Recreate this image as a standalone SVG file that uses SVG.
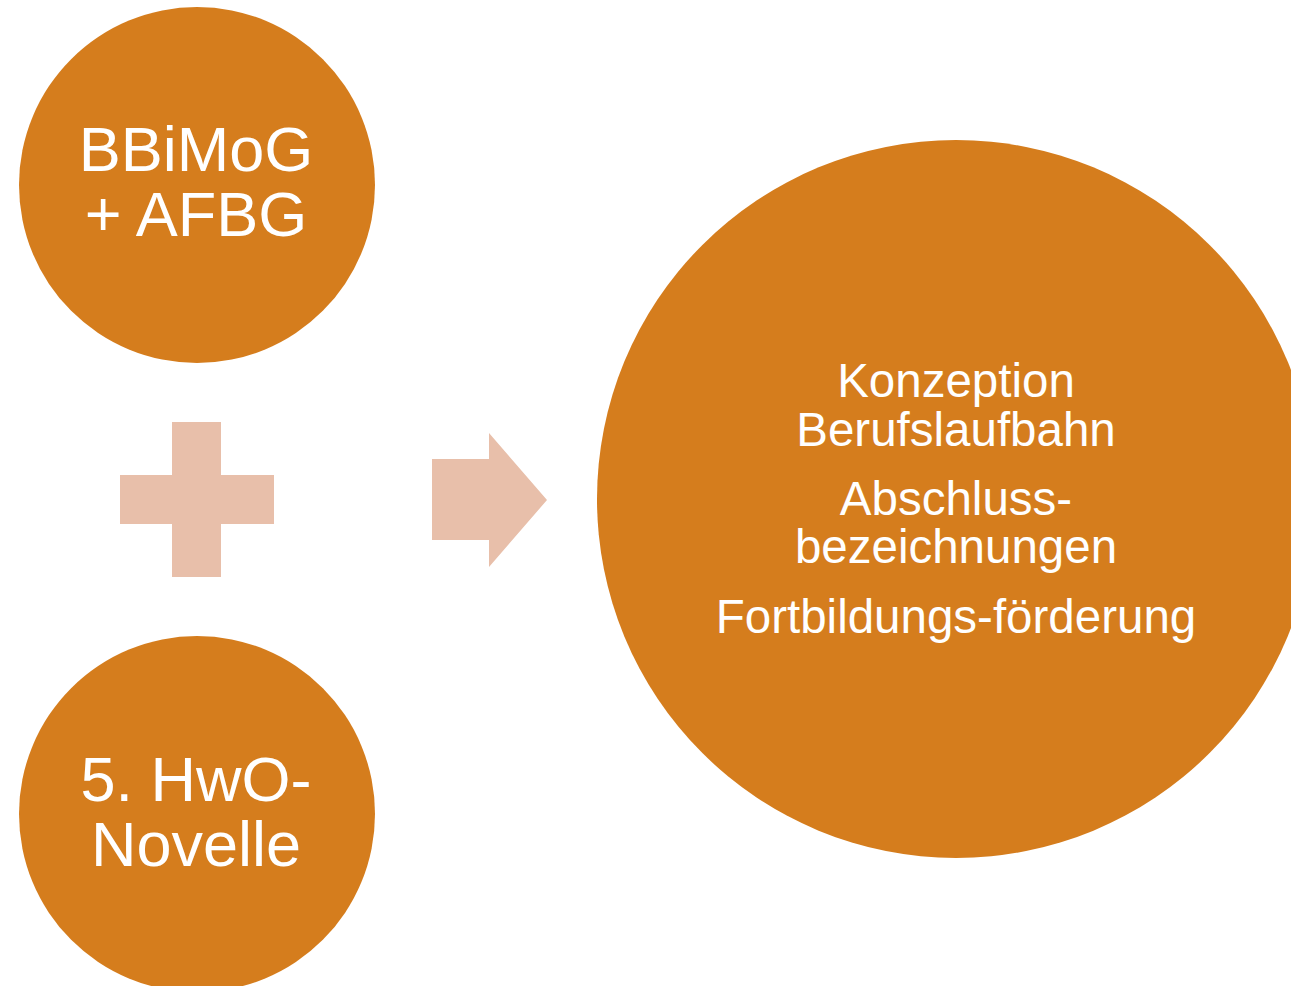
<svg xmlns="http://www.w3.org/2000/svg" width="1291" height="986" viewBox="0 0 1291 986">
<style>
.c{fill:#D57D1D}
.s{fill:#E8BFAA}
.t{fill:#FFFFFF;font-family:"Liberation Sans",Arial,sans-serif;text-anchor:middle}
.big{font-size:63px}
.mid{font-size:47.5px}
</style>
<rect width="1291" height="986" fill="#FFFFFF"/>
<g id="node-bbimog">
<circle class="c" cx="197" cy="185" r="178"/>
<text class="t big" x="196" y="171">BBiMoG</text>
<text class="t big" x="196" y="236">+ AFBG</text>
</g>
<g id="node-hwo">
<circle class="c" cx="197" cy="814" r="178"/>
<text class="t big" x="196" y="801">5. HwO-</text>
<text class="t big" x="196" y="866">Novelle</text>
</g>
<g id="node-result">
<circle class="c" cx="956" cy="499" r="359"/>
<text class="t mid" x="956" y="397">Konzeption</text>
<text class="t mid" x="956" y="446">Berufslaufbahn</text>
<text class="t mid" x="956" y="515">Abschluss-</text>
<text class="t mid" x="956" y="563">bezeichnungen</text>
<text class="t mid" x="956" y="633">Fortbildungs-förderung</text>
</g>
<g id="connectors">
<path class="s" d="M172,422 H221 V475 H274 V524 H221 V577 H172 V524 H120 V475 H172 Z"/>
<path class="s" d="M432,459 H489 V433 L547,500 L489,567 V540 H432 Z"/>
</g>
</svg>
